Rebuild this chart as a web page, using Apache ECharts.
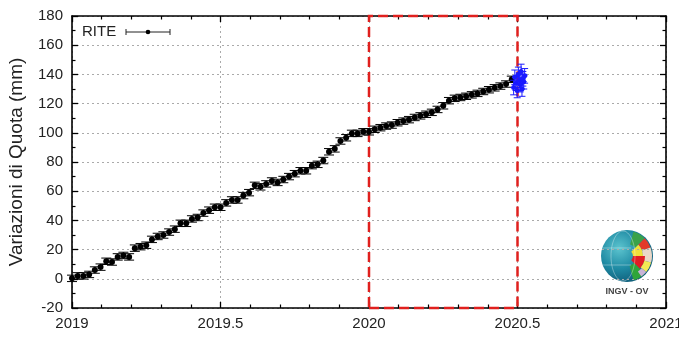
<!DOCTYPE html>
<html><head><meta charset="utf-8">
<script src="https://cdn.jsdelivr.net/npm/echarts@6/dist/echarts.min.js"></script>
<style>html,body{margin:0;padding:0;background:#fff}#c{width:679px;height:338px}</style>
</head><body><div id="c"></div>
<script>
// ---- data ----
const seriesName = 'RITE';
const START_YEAR = 2019.0;          // first weekly solution
const WEEK = 1 / 52;                // weekly sampling
const riteValues = [
  0.3, 2, 2, 3, 6, 8, 12, 11.5, 15, 16,
  15, 21, 22, 23, 27, 29, 30, 32, 34, 38,
  38, 41, 42, 45, 47, 49, 49, 52, 54, 54,
  57, 59, 64, 63, 65, 67, 66, 68, 70, 72,
  74, 74, 77.5, 78.4, 81, 87, 89, 94.4, 96.6, 99.6,
  99.6, 100.7, 100.7, 102.4, 103.5, 104.6, 105.3, 106.9, 108, 109,
  110.5, 111.6, 112.7, 114, 116, 118.5, 122, 123.6, 124.2, 125,
  126, 127, 128.3, 129.5, 130.8, 132, 133.4, 136.6
];
const riteError = 2.2;
const blueTimes  = [2020.487, 2020.491, 2020.495, 2020.499, 2020.503, 2020.506, 2020.509, 2020.512, 2020.515, 2020.518, 2020.521, 2020.524];
const blueValues = [131, 138, 134, 129, 140, 136, 133, 142, 130, 137, 135, 139];
const blueError = 5;
const xMin = 2019, xMax = 2021, xStep = 0.5;
const yMin = -20, yMax = 180, yStep = 20;
const highlightRange = [2020, 2020.5];

// ---- build ----
const riteData = riteValues.map((v, i) => [START_YEAR + i * WEEK, v, riteError]);
const blueData = blueValues.map((v, i) => [blueTimes[i], v, blueError]);

function errItem(color, capW, r, hw) {
  return function (params, api) {
    const x = api.value(0), y = api.value(1), e = api.value(2);
    const c = api.coord([x, y]), top = api.coord([x, y + e]), bot = api.coord([x, y - e]);
    const st = { stroke: color, lineWidth: 1 };
    const ch = [
      { type: 'line', shape: { x1: c[0], y1: top[1], x2: c[0], y2: bot[1] }, style: st },
      { type: 'line', shape: { x1: c[0] - capW / 2, y1: top[1], x2: c[0] + capW / 2, y2: top[1] }, style: st },
      { type: 'line', shape: { x1: c[0] - capW / 2, y1: bot[1], x2: c[0] + capW / 2, y2: bot[1] }, style: st },
      { type: 'circle', shape: { cx: c[0], cy: c[1], r: r }, style: { fill: color } }
    ];
    if (hw) ch.push({ type: 'line', shape: { x1: c[0] - hw, y1: c[1], x2: c[0] + hw, y2: c[1] }, style: st });
    return { type: 'group', children: ch };
  };
}

const FONT = 'Liberation Sans, Arial, sans-serif';
const mkLine = () => ({ show: true, onZero: false, lineStyle: { color: '#000', width: 1.6 } });
const mkTick = () => ({ show: true, inside: true, length: 6, lineStyle: { color: '#000', width: 1.3 } });
const mkMinor = (n) => ({ show: true, splitNumber: n, length: 3.5, lineStyle: { color: '#000', width: 1.2 } });
const mkDotted = () => ({ show: true, lineStyle: { color: '#aaa', type: [2, 3], width: 1 } });
const mkLabel = (m) => ({ color: '#222', fontSize: 15, fontFamily: FONT, margin: m });

const chart = echarts.init(document.getElementById('c'), null, { renderer: 'canvas' });
const globeCx = 627, globeCy = 256, R = 26;
const deg = Math.PI / 180;
chart.setOption({
  animation: false,
  backgroundColor: '#fff',
  grid: { left: 72, right: 13, top: 16, bottom: 30, containLabel: false, outerBoundsMode: 'none' },
  xAxis: [
    { type: 'value', min: xMin, max: xMax, interval: xStep, position: 'bottom',
      axisLine: mkLine(), axisTick: mkTick(), minorTick: mkMinor(5),
      axisLabel: Object.assign(mkLabel(8), { formatter: v => String(v) }),
      splitLine: mkDotted() },
    { type: 'value', min: xMin, max: xMax, interval: xStep, position: 'top',
      axisLine: mkLine(), axisTick: mkTick(), minorTick: mkMinor(5),
      axisLabel: { show: false }, splitLine: { show: false } }
  ],
  yAxis: [
    { type: 'value', min: yMin, max: yMax, interval: yStep, position: 'left',
      name: 'Variazioni di Quota (mm)', nameLocation: 'middle', nameGap: 46, nameRotate: 90,
      nameTextStyle: { color: '#222', fontSize: 19, fontFamily: FONT },
      axisLine: mkLine(), axisTick: mkTick(), minorTick: mkMinor(2),
      axisLabel: mkLabel(9), splitLine: mkDotted() },
    { type: 'value', min: yMin, max: yMax, interval: yStep, position: 'right',
      axisLine: mkLine(), axisTick: mkTick(), minorTick: mkMinor(2),
      axisLabel: { show: false }, splitLine: { show: false } }
  ],
  series: [
    { type: 'custom', name: seriesName, xAxisIndex: 0, yAxisIndex: 0, data: riteData,
      renderItem: errItem('#000', 10, 3, 0), z: 3,
      markArea: { silent: true, itemStyle: { color: 'rgba(0,0,0,0)', borderColor: '#e0201e', borderWidth: 2.5, borderType: [10, 5] },
        data: [[{ xAxis: highlightRange[0], yAxis: yMin }, { xAxis: highlightRange[1], yAxis: yMax }]] } },
    { type: 'custom', name: 'blue', xAxisIndex: 0, yAxisIndex: 0, data: blueData,
      renderItem: errItem('#1a1aff', 7, 2.5, 3), z: 4 },
    { type: 'line', xAxisIndex: 1, yAxisIndex: 1, data: [], silent: true }
  ],
  graphic: [
    { type: 'text', left: 82, top: 24, style: { text: seriesName, fill: '#222', fontSize: 15, fontFamily: FONT } },
    { type: 'group', children: [
      { type: 'line', shape: { x1: 126, y1: 32, x2: 170, y2: 32 }, style: { stroke: '#222', lineWidth: 1 } },
      { type: 'line', shape: { x1: 126, y1: 29, x2: 126, y2: 35 }, style: { stroke: '#222', lineWidth: 1 } },
      { type: 'line', shape: { x1: 170, y1: 29, x2: 170, y2: 35 }, style: { stroke: '#222', lineWidth: 1 } },
      { type: 'circle', shape: { cx: 148, cy: 32, r: 2.3 }, style: { fill: '#000' } }
    ]},
    // INGV-OV logo
    { type: 'group', children: [
      { type: 'circle', shape: { cx: globeCx, cy: globeCy, r: R },
        style: { fill: { type: 'radial', x: 0.35, y: 0.35, r: 0.8, colorStops: [
          { offset: 0, color: '#5cc4cf' }, { offset: 0.5, color: '#1e8aa3' }, { offset: 1, color: '#0b4d6b' } ] } } },
      { type: 'sector', shape: { cx: globeCx, cy: globeCy, r0: 12, r: R - 1, startAngle: -75 * deg, endAngle: -45 * deg }, style: { fill: '#3aa24a' } },
      { type: 'sector', shape: { cx: globeCx, cy: globeCy, r0: 16, r: R - 1, startAngle: -45 * deg, endAngle: -20 * deg }, style: { fill: '#e23a2a' } },
      { type: 'sector', shape: { cx: globeCx, cy: globeCy, r0: 6, r: 16, startAngle: -45 * deg, endAngle: 0 * deg }, style: { fill: '#f0e03a' } },
      { type: 'sector', shape: { cx: globeCx, cy: globeCy, r0: 16, r: R - 1, startAngle: -20 * deg, endAngle: 15 * deg }, style: { fill: '#ead7c8' } },
      { type: 'sector', shape: { cx: globeCx, cy: globeCy, r0: 6, r: 18, startAngle: 0 * deg, endAngle: 45 * deg }, style: { fill: '#e01e24' } },
      { type: 'sector', shape: { cx: globeCx, cy: globeCy, r0: 18, r: R - 1, startAngle: 15 * deg, endAngle: 40 * deg }, style: { fill: '#f2ea55' } },
      { type: 'sector', shape: { cx: globeCx, cy: globeCy, r0: 10, r: R - 1, startAngle: 45 * deg, endAngle: 75 * deg }, style: { fill: '#2fa53a' } },
      { type: 'sector', shape: { cx: globeCx, cy: globeCy, r0: 19, r: R - 1, startAngle: 40 * deg, endAngle: 55 * deg }, style: { fill: '#c9b3d6' } },
      { type: 'ellipse', shape: { cx: globeCx - 4, cy: globeCy, rx: 12, ry: R - 1 }, style: { fill: 'none', stroke: 'rgba(255,255,255,0.35)', lineWidth: 1 } },
      { type: 'line', shape: { x1: globeCx - R + 2, y1: globeCy - 8, x2: globeCx + 4, y2: globeCy - 8 }, style: { stroke: 'rgba(255,255,255,0.35)', lineWidth: 1 } },
      { type: 'line', shape: { x1: globeCx - R + 2, y1: globeCy + 9, x2: globeCx + 4, y2: globeCy + 9 }, style: { stroke: 'rgba(255,255,255,0.35)', lineWidth: 1 } },
      { type: 'text', x: globeCx, y: globeCy + 31, style: { text: 'INGV - OV', fill: '#444', fontSize: 9, fontWeight: 'bold', align: 'center', fontFamily: FONT } }
    ]}
  ]
});
</script></body></html>
